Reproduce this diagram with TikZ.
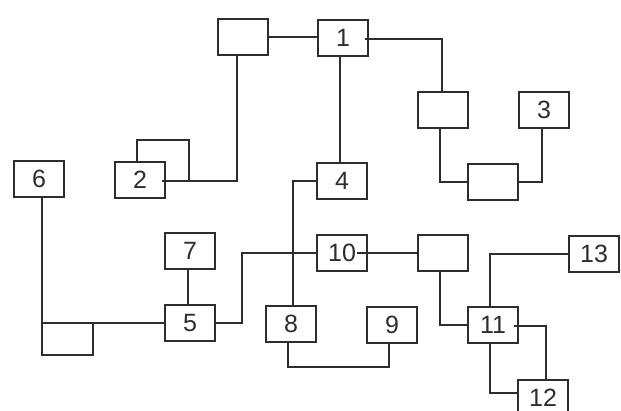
\documentclass[tikz,border=0pt]{standalone}
\usepackage{fontspec}
\setmainfont{Liberation Sans}
\definecolor{ink}{RGB}{45,45,45}
\begin{document}
\begin{tikzpicture}[x=1pt,y=-1pt,
  blk/.style={draw=ink,line width=2pt,minimum width=50pt,minimum height=36pt,inner sep=0pt,
    font=\fontsize{25}{30}\selectfont,text=ink},
  wire/.style={draw=ink,line width=2pt}]
\useasboundingbox[fill=white] (0,0) rectangle (621,411);
% boxes
\node[blk] (A)   at (243,37) {};
\node[blk] (b1)  at (343,38) {1};
\node[blk] (b2)  at (140,180) {2};
\node[blk] (b6)  at (39,179) {6};
\node[blk] (b4)  at (342,181) {4};
\node[blk] (B)   at (443,110) {};
\node[blk] (b3)  at (544,110) {3};
\node[blk] (C)   at (493,182) {};
\node[blk] (b7)  at (190,251) {7};
\node[blk] (b5)  at (190,323) {5};
\node[blk] (b8)  at (291,324) {8};
\node[blk] (b9)  at (392,325) {9};
\node[blk] (b10) at (342,253) {10};
\node[blk] (D)   at (443,253) {};
\node[blk] (b11) at (493,325) {11};
\node[blk] (b13) at (594,254) {13};
\node[blk] (b12) at (543,398) {12};
% helper coordinates
\coordinate (j2) at ([xshift=-4pt,yshift=-1pt]b2.east);
\coordinate (loopT) at (189,140);
\coordinate (k6a) at (93,355);
\coordinate (k6b) at (93,323);
\coordinate (k5) at (242,323);
\coordinate (k89) at (389,367);
% connectors
\draw[wire] (A.east) -- (A.east -| b1.west);
\draw[wire] ([xshift=-6pt]A.south) |- (j2);
\draw[wire] ([xshift=-3pt]b2.north) |- (loopT) -- (loopT |- j2);
\draw[wire] ([xshift=-4pt,yshift=-1pt]b1.east) -| ([xshift=-1pt]B.north);
\draw[wire] ([xshift=-3pt]b1.south) -- ([xshift=-3pt]b1.south |- b4.north);
\draw[wire] ([xshift=-3pt]B.south) |- (C.west);
\draw[wire] (C.east) -| ([xshift=-2pt]b3.south);
\draw[wire] (b4.west) -| ([xshift=2pt]b8.north);
\draw[wire] ([xshift=3pt]b6.south) |- (k6a) -- (k6b);
\draw[wire] ([xshift=3pt]b6.south |- b5.west) -- (b5.west);
\draw[wire] ([xshift=-2pt]b7.south) -- ([xshift=-2pt]b5.north);
\draw[wire] (b5.east) -- (k5) |- (b10.west);
\draw[wire] ([xshift=-3pt]b8.south) |- (k89) -- ([xshift=-3pt]b9.south);
\draw[wire] ([xshift=-11pt]b10.east) -- (D.west);
\draw[wire] ([xshift=-3pt]D.south) |- (b11.west);
\draw[wire] ([xshift=-3pt]b11.north) |- (b13.west);
\draw[wire] ([xshift=-5pt,yshift=-1pt]b11.east) -| ([xshift=3pt]b12.north);
\draw[wire] ([xshift=-3pt]b11.south) |- ([yshift=5pt]b12.west);
\end{tikzpicture}
\end{document}
